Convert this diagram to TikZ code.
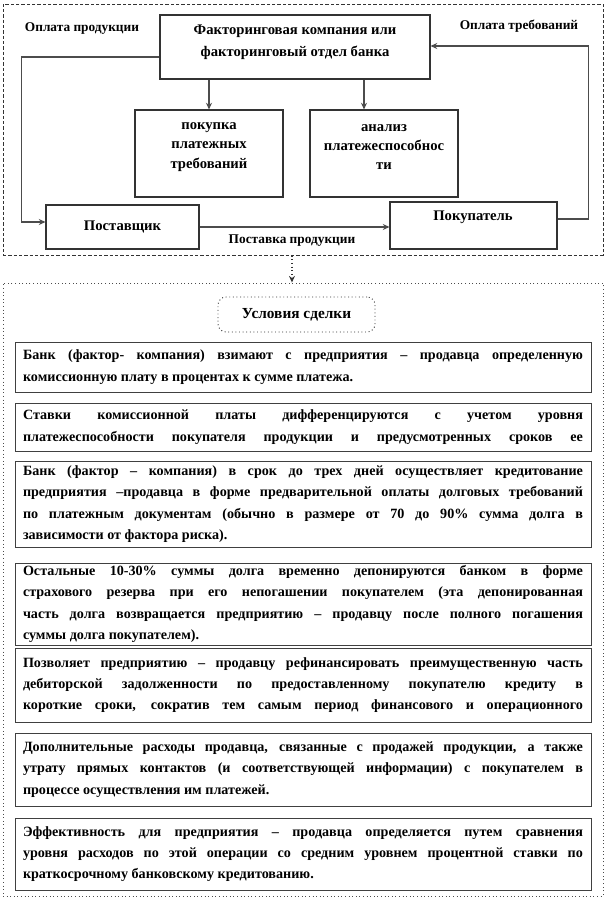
\documentclass[tikz,border=0pt]{standalone}
\usepackage{fontspec}
\setmainfont{Liberation Serif}
\usetikzlibrary{arrows.meta}

\begin{document}
\begin{tikzpicture}[
    x=0.75pt, y=-0.75pt,
    >={Stealth[length=5pt,width=4.5pt]},
    every node/.style={font=\fontsize{11}{13.5}\selectfont\bfseries, inner sep=0pt},
    topbox/.style={rectangle, draw=black!80, line width=0.8pt},
    toptext/.style={align=center},
    smalltext/.style={font=\fontsize{10}{12}\selectfont\bfseries},
    flow/.style={draw=black!70, line width=0.9pt},
    condbox/.style={rectangle, draw=black!75, line width=0.7pt,
        minimum width=432pt, text width=420pt, align=justify,
        font=\fontsize{10.6}{16}\selectfont\bfseries}
]
\useasboundingbox (0,0) rectangle (606,899);

% ================= Verkhnyaya chast : skhema faktoringa =================

\node[draw=black!80, line width=0.7pt, dash pattern=on 2.5pt off 1.5pt,
      minimum width=450pt, minimum height=188.25pt] (topframe) at (303,129.5) {};

\node[topbox, minimum width=202.5pt, minimum height=48pt] (factor) at (295,47) {};
\node[toptext] (factortext) at (295,42) {Факторинговая компания или\\[3pt]факторинговый отдел банка};

\node[topbox, minimum width=111pt, minimum height=65.25pt] (buy)  at (209,153.5) {};
\node[topbox, minimum width=111pt, minimum height=65.25pt] (anal) at (384,153.5) {};
\node[toptext] (buytext)  at (209,147) {покупка\\[1pt]платежных\\[1pt]требований};
\node[toptext] (analtext) at (384,147) {анализ\\[1pt]платежеспособнос\\[1pt]ти};

\node[topbox, minimum width=114.75pt, minimum height=33pt] (supplier) at (122.5,227) {Поставщик};
\node[topbox, minimum width=125.25pt, minimum height=35.25pt] (buyer) at (473.5,225.5) {};
\node (buyertext) at (473,217) {Покупатель};

\node[smalltext] (payprod) at (82,29)  {Оплата продукции};
\node[smalltext] (payreq)  at (519,26) {Оплата требований};
\node[smalltext] (supply)  at (292,241) {Поставка продукции};

\path ([xshift=-15pt]anal.north) coordinate (analtop);

\draw[flow,->] (factor.south -| buy.north) -- (buy.north);
\draw[flow,->] (analtop |- factor.south) -- (analtop);
\draw[flow,->] ([yshift=-7.5pt]factor.west) -- ++(-138,0) |- ([yshift=3.75pt]supplier.west);
\draw[flow,->] ([yshift=4.875pt]buyer.east) -- ++(31,0) |- ([yshift=0.75pt]factor.east);
\draw[flow,->] (supplier.east) -- (supplier.east -| buyer.west);

% ================= Nizhnyaya chast : usloviya sdelki =================

\node[draw=black!70, line width=0.7pt, dotted,
      minimum width=450pt, minimum height=459.75pt] (bottomframe) at (303,589.5) {};

\node[draw=black!80, line width=0.7pt, dotted, rounded corners=6pt,
      minimum width=117.75pt, minimum height=26.25pt,
      font=\fontsize{11.5}{14}\selectfont\bfseries] (cond) at (296.5,314.5) {Условия сделки};

\path ([xshift=-3.4pt]cond.north) coordinate (condtop);
\draw[black!80, line width=0.8pt, dotted, ->] (topframe.south -| condtop) -- (bottomframe.north -| condtop);

\node[condbox, minimum height=37.5pt] (c1) at (303,367)
  {Банк (фактор- компания) взимают с предприятия – продавца определенную\linebreak
   комиссионную плату в процентах к сумме платежа.};
\node[condbox, minimum height=36pt] (c2) at (303,427)
  {Ставки комиссионной платы дифференцируются с учетом уровня\linebreak
   \makebox[\linewidth][s]{платежеспособности покупателя продукции и предусмотренных сроков ее}};
\node[condbox, minimum height=64.5pt] (c3) at (303,504)
  {Банк (фактор – компания) в срок до трех дней осуществляет кредитование\linebreak
   предприятия –продавца в форме предварительной оплаты долговых требований\linebreak
   по платежным документам (обычно в размере от 70 до 90\% сумма долга в\linebreak
   зависимости от фактора риска).};
\node[condbox, minimum height=61.5pt] (c4) at (303,604)
  {Остальные 10-30\% суммы долга временно депонируются банком в форме\linebreak
   страхового резерва при его непогашении покупателем (эта депонированная\linebreak
   часть долга возвращается предприятию – продавцу после полного погашения\linebreak
   суммы долга покупателем).};
\node[condbox, minimum height=55.5pt] (c5) at (303,685)
  {Позволяет предприятию – продавцу рефинансировать преимущественную часть\linebreak
   дебиторской задолженности по предоставленному покупателю кредиту в\linebreak
   \makebox[\linewidth][s]{короткие сроки, сократив тем самым период финансового и операционного}};
\node[condbox, minimum height=54.75pt] (c6) at (303,769.5)
  {Дополнительные расходы продавца, связанные с продажей продукции, а также\linebreak
   утрату прямых контактов (и соответствующей информации) с покупателем в\linebreak
   процессе осуществления им платежей.};
\node[condbox, minimum height=54pt] (c7) at (303,854)
  {Эффективность для предприятия – продавца определяется путем сравнения\linebreak
   уровня расходов по этой операции со средним уровнем процентной ставки по\linebreak
   краткосрочному банковскому кредитованию.};

\end{tikzpicture}
\end{document}
